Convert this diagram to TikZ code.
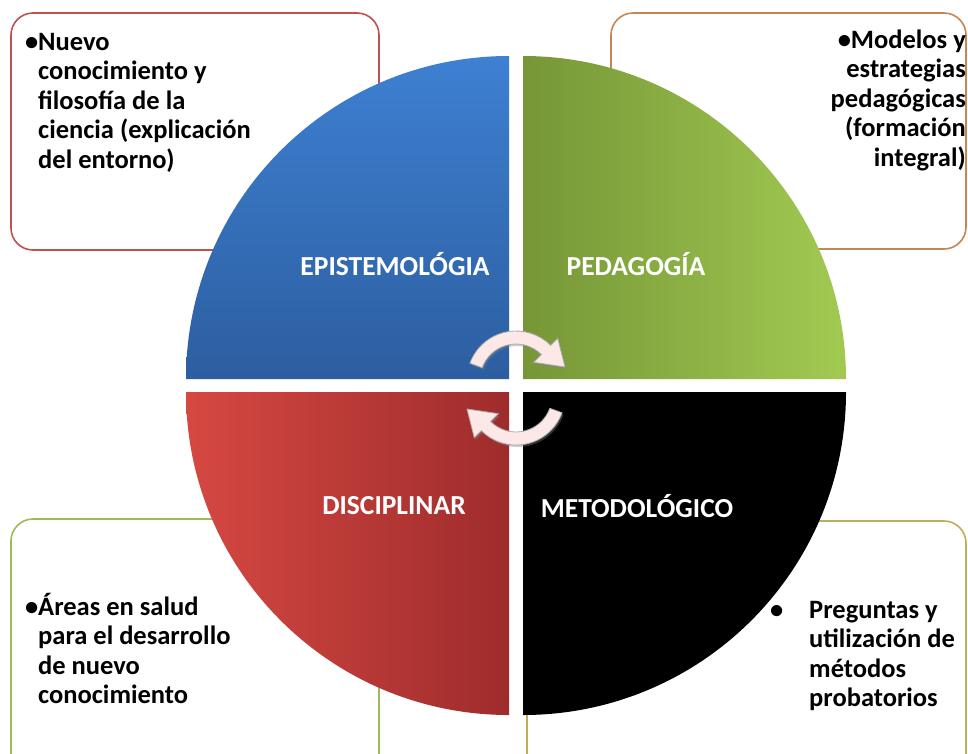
\documentclass[tikz,border=0pt]{standalone}
\usepackage{fontspec}
\setmainfont{Carlito}
\usetikzlibrary{shadows}
\definecolor{boxred}{RGB}{192,80,77}
\definecolor{boxorange}{RGB}{196,134,84}
\definecolor{boxgreen}{RGB}{155,187,89}
\definecolor{boxolive}{RGB}{190,175,85}
\definecolor{bluetop}{RGB}{62,128,210}
\definecolor{bluebot}{RGB}{44,94,160}
\definecolor{greenleft}{RGB}{118,150,55}
\definecolor{greenright}{RGB}{162,202,82}
\definecolor{redleft}{RGB}{214,72,66}
\definecolor{redright}{RGB}{158,44,44}
\definecolor{arrowpink}{RGB}{253,232,232}
\begin{document}
\begin{tikzpicture}[x=1pt,y=1pt,
  infobox/.style={line width=1.6pt, rounded corners=22pt, fill=white},
  quadlabel/.style={text=white, font=\fontsize{27.5}{31}\selectfont\bfseries, inner sep=0},
  bodytext/.style={font=\fontsize{26.5}{29.5}\selectfont\bfseries, inner sep=0},
  cyclearrow/.style={fill=arrowpink, draw=gray!65, line width=0.8pt,
    drop shadow={opacity=0.4, shadow xshift=1.5pt, shadow yshift=-2pt}}]
\clip (0,0) rectangle (968,-753);
\fill[white] (0,0) rectangle (968,-753);
% boxes
\draw[infobox, draw=boxred] (11,-13) rectangle (379,-250);
\draw[infobox, draw=boxorange] (611,-13) rectangle (966,-249);
\draw[infobox, draw=boxgreen] (11,-519) rectangle (379,-780);
\draw[infobox, draw=boxolive] (527,-521) rectangle (966,-780);
% quadrants
\shade[top color=bluetop, bottom color=bluebot] (509,-379) -- (186,-379) arc[start angle=180, end angle=90, radius=323] -- cycle;
\shade[left color=greenleft, right color=greenright] (523,-379) -- (523,-56) arc[start angle=90, end angle=0, radius=323] -- cycle;
\shade[left color=redleft, right color=redright] (509,-392) -- (186,-392) arc[start angle=180, end angle=270, radius=323] -- cycle;
\fill[black] (523,-392) -- (846,-392) arc[start angle=0, end angle=-90, radius=323] -- cycle;
% labels
\node[quadlabel] (epi) at (395,-264) {EPISTEMOLÓGIA};
\node[quadlabel] (ped) at (636,-264) {PEDAGOGÍA};
\node[quadlabel] (dis) at (394,-506) {DISCIPLINAR};
\node[quadlabel] (met) at (637,-506) {METODOLÓGICO};
% cycle arrows
\begin{scope}[shift={(516,-380)}]
\path[cyclearrow] (160:49) arc[start angle=160, end angle=45, radius=49] -- (45:59) -- (49,13) -- (45:25) -- (45:36) arc[start angle=45, end angle=160, radius=36] -- cycle;
\end{scope}
\begin{scope}[shift={(516,-396)}]
\path[cyclearrow] (-20:49) arc[start angle=-20, end angle=-135, radius=49] -- (-135:59) -- (-49,-13) -- (-135:25) -- (-135:36) arc[start angle=-135, end angle=-20, radius=36] -- cycle;
\end{scope}
% texts
\node[bodytext, anchor=base west] (t1) at (38,-50) {\begin{tabular}[t]{@{}l@{}}\llap{•}Nuevo\\conocimiento y\\filosofía de la\\ciencia (explicación\\del entorno)\end{tabular}};
\node[bodytext, anchor=base east] (t2) at (966,-48) {\begin{tabular}[t]{@{}r@{}}•Modelos y\\estrategias\\pedagógicas\\(formación\\integral)\end{tabular}};
\node[bodytext, anchor=base west] (t3) at (38,-615) {\begin{tabular}[t]{@{}l@{}}\llap{•}Áreas en salud\\para el desarrollo\\de nuevo\\conocimiento\end{tabular}};
\node[bodytext, anchor=base west] (t4) at (809,-618) {\begin{tabular}[t]{@{}l@{}}\llap{•\hspace*{26pt}}Preguntas y\\utilización de\\métodos\\probatorios\end{tabular}};
\end{tikzpicture}
\end{document}
